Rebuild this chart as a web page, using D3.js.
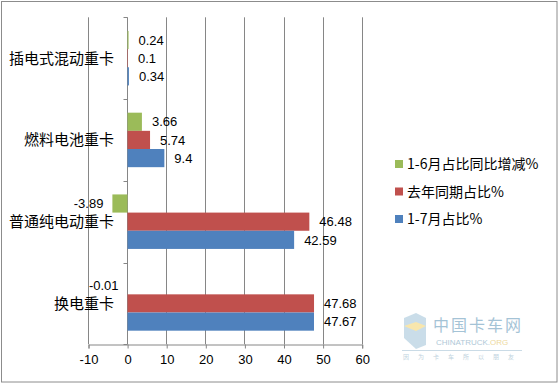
<!DOCTYPE html>
<html>
<head>
<meta charset="utf-8">
<script src="https://cdn.jsdelivr.net/npm/d3@7"></script>
<style>
 body { margin: 0; background: #fff; }
 svg { display: block; }
</style>
</head>
<body>
<script>
// categories top to bottom, as they appear
var categories = ["插电式混动重卡", "燃料电池重卡", "普通纯电动重卡", "换电重卡"];
var seriesNames = ["1-6月占比同比增减%", "去年同期占比%", "1-7月占比%"];
var seriesColors = ["#9BBB59", "#C0504D", "#4F81BD"];
var greenValues = [0.24, 3.66, -3.89, -0.01];
var redValues = [0.1, 5.74, 46.48, 47.68];
var blueValues = [0.34, 9.4, 42.59, 47.67];
var xTicks = [-10, 0, 10, 20, 30, 40, 50, 60];

var allValues = [greenValues, redValues, blueValues];

var width = 559, height = 384;
var cjk = "'Noto Sans CJK SC', 'Noto Sans', sans-serif";
var num = "'Liberation Sans', 'DejaVu Sans', sans-serif";

var svg = d3.select("body").append("svg")
 .attr("width", width)
 .attr("height", height);

// chart border
svg.append("rect")
 .attr("x", 1.5).attr("y", 1.5)
 .attr("width", 555.5).attr("height", 380.5)
 .attr("fill", "#fff")
 .attr("stroke", "#8c8c8c");

var x = d3.scaleLinear().domain([-10, 60]).range([88.5, 362.2]);
var y = d3.scaleBand().domain(categories).range([17.3, 344.3]);
var ySub = d3.scaleBand().domain(seriesNames).range([0, y.bandwidth()])
 .paddingInner(0).paddingOuter(0.75);

// vertical gridlines
svg.append("g").selectAll("line")
 .data(xTicks.filter(function(t) { return t != 0; }))
 .enter().append("line")
 .attr("x1", function(d) { return Math.floor(x(d)) + 0.5; })
 .attr("x2", function(d) { return Math.floor(x(d)) + 0.5; })
 .attr("y1", 17.3).attr("y2", 344.3)
 .attr("stroke", "#868686");

// y axis (at zero)
var x0 = Math.floor(x(0)) + 0.5;
svg.append("line")
 .attr("x1", x0).attr("x2", x0)
 .attr("y1", 17.3).attr("y2", 344.3)
 .attr("stroke", "#868686");
svg.append("g").selectAll("line")
 .data(categories.map(function(c) { return y(c); }).concat([344.3]))
 .enter().append("line")
 .attr("x1", x0 - 4).attr("x2", x0)
 .attr("y1", function(d) { return Math.round(d) + 0.5; })
 .attr("y2", function(d) { return Math.round(d) + 0.5; })
 .attr("stroke", "#868686");

// bars (drawn over the axis so the tiny ones still show)
seriesNames.forEach(function(s, si) {
 var vals = allValues[si];
 var g = svg.append("g");
 g.selectAll("rect")
  .data(categories)
  .enter().append("rect")
  .attr("x", function(c, i) { return vals[i] >= 0 ? x0 : x(vals[i]); })
  .attr("y", function(c) { return y(c) + ySub(s); })
  .attr("width", function(c, i) {
   var w = vals[i] >= 0 ? x(vals[i]) - x0 : x0 - x(vals[i]);
   return Math.max(w, 0);
  })
  .attr("height", ySub.bandwidth())
  .attr("fill", seriesColors[si]);

 g.selectAll("text")
  .data(categories)
  .enter().append("text")
  .attr("x", function(c, i) { return vals[i] >= 0 ? x(vals[i]) + 10 : x(vals[i]) - 9; })
  .attr("y", function(c) { return y(c) + ySub(s) + ySub.bandwidth() / 2; })
  .attr("dy", "0.36em")
  .attr("text-anchor", function(c, i) { return vals[i] >= 0 ? "start" : "end"; })
  .attr("font-family", num)
  .attr("font-size", 13)
  .attr("fill", "#000")
  .text(function(c, i) { return String(vals[i]); });
});

// category labels
svg.append("g").selectAll("text")
 .data(categories)
 .enter().append("text")
 .attr("x", 114)
 .attr("y", function(c) { return y(c) + y.bandwidth() / 2; })
 .attr("dy", "0.36em")
 .attr("text-anchor", "end")
 .attr("font-family", cjk)
 .attr("font-size", 15)
 .attr("fill", "#000")
 .text(function(c) { return c; });

// x axis
var xAxis = d3.axisBottom(x).tickValues(xTicks).tickSize(4).tickPadding(6)
 .tickFormat(function(d) { return String(d); });
var xg = svg.append("g")
 .attr("transform", "translate(0," + 344.5 + ")")
 .call(xAxis);
xg.select(".domain").attr("stroke", "#868686");
xg.selectAll(".tick line").attr("stroke", "#868686");
xg.selectAll(".tick text")
 .attr("font-family", num)
 .attr("font-size", 13)
 .attr("fill", "#000");

// legend
var legend = svg.append("g").attr("transform", "translate(395,0)");
var legendY = [164, 191.5, 219];
seriesNames.forEach(function(s, si) {
 legend.append("rect")
  .attr("x", 0).attr("y", legendY[si] - 4)
  .attr("width", 8).attr("height", 8)
  .attr("fill", seriesColors[si]);
 legend.append("text")
  .attr("x", 12).attr("y", legendY[si])
  .attr("dy", "0.36em")
  .attr("font-family", cjk)
  .attr("font-size", 14)
  .attr("fill", "#000")
  .text(s);
});

// faint watermark
var wm = svg.append("g").attr("opacity", 0.55);
wm.append("polygon")
 .attr("points", "404,318 416,313 426,318 426,345 416,349 404,338")
 .attr("fill", "#9fc3d8");
wm.append("polygon")
 .attr("points", "404,326 416,322 426,326 416,331")
 .attr("fill", "#f3d36b");
wm.append("text")
 .attr("x", 433).attr("y", 331)
 .attr("font-family", cjk).attr("font-size", 16)
 .attr("fill", "#5b93b5")
 .attr("letter-spacing", 2)
 .text("中国卡车网");
wm.append("text")
 .attr("x", 436).attr("y", 345)
 .attr("font-family", num).attr("font-size", 8)
 .attr("fill", "#6d9ab7")
 .text("CHINATRUCK.")
 .append("tspan")
 .attr("fill", "#e0b84a")
 .text("ORG");
wm.append("line")
 .attr("x1", 402).attr("x2", 522).attr("y1", 350.5).attr("y2", 350.5)
 .attr("stroke", "#9fbfd2");
wm.append("text")
 .attr("x", 403).attr("y", 359)
 .attr("font-family", cjk).attr("font-size", 6)
 .attr("fill", "#8aaec4")
 .attr("letter-spacing", 9)
 .text("因为卡车所以朋友");
</script>
</body>
</html>
